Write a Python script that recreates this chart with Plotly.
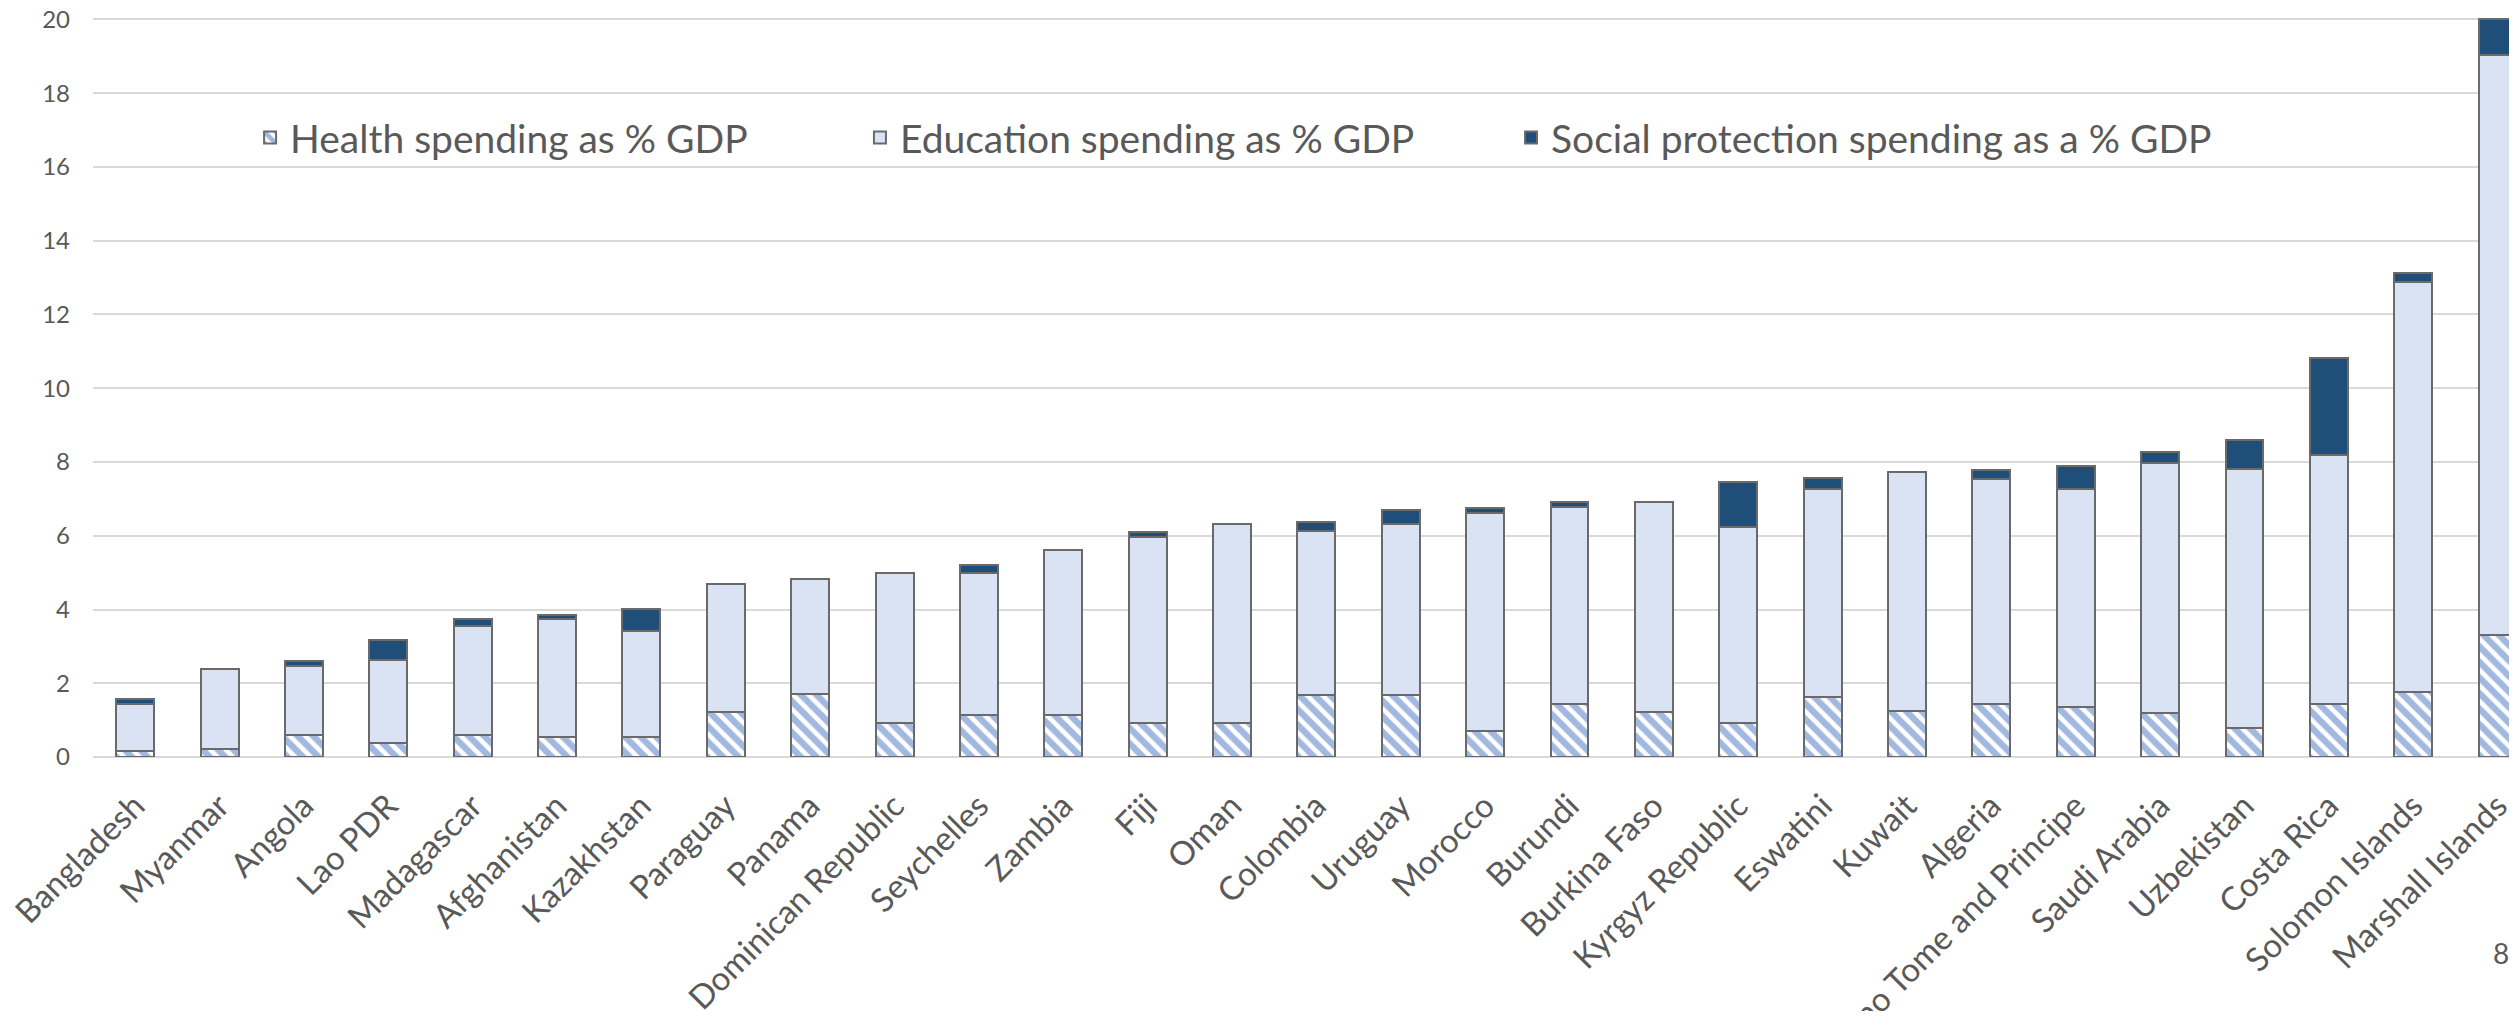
import plotly.graph_objects as go

countries = ["Bangladesh", "Myanmar", "Angola", "Lao PDR", "Madagascar", "Afghanistan",
             "Kazakhstan", "Paraguay", "Panama", "Dominican Republic", "Seychelles", "Zambia",
             "Fiji", "Oman", "Colombia", "Uruguay", "Morocco", "Burundi", "Burkina Faso",
             "Kyrgyz Republic", "Eswatini", "Kuwait", "Algeria", "Sao Tome and Principe",
             "Saudi Arabia", "Uzbekistan", "Costa Rica", "Solomon Islands", "Marshall Islands"]

health = [0.15, 0.22, 0.60, 0.37, 0.60, 0.53, 0.53, 1.23, 1.72, 0.91, 1.14, 1.14,
          0.91, 0.91, 1.67, 1.67, 0.70, 1.45, 1.23, 0.91, 1.63, 1.24, 1.45, 1.36,
          1.18, 0.80, 1.45, 1.77, 3.30]
education = [1.28, 2.17, 1.87, 2.27, 2.96, 3.20, 2.88, 3.45, 3.12, 4.09, 3.85, 4.46,
             5.05, 5.40, 4.45, 4.66, 5.91, 5.32, 5.68, 5.32, 5.64, 6.50, 6.09, 5.91,
             6.80, 7.01, 6.75, 11.11, 15.73]
social = [0.15, 0.0, 0.14, 0.53, 0.19, 0.13, 0.61, 0.0, 0.0, 0.0, 0.23, 0.0,
          0.14, 0.0, 0.25, 0.37, 0.15, 0.15, 0.0, 1.24, 0.30, 0.0, 0.25, 0.63,
          0.30, 0.80, 2.63, 0.25, 0.97]

names = ["Health spending as % GDP", "Education spending as % GDP",
         "Social protection spending as a % GDP"]
y_ticks = [0, 2, 4, 6, 8, 10, 12, 14, 16, 18, 20]
page_number = "8"

FONT = "Lato"
GRAY = "#595959"
OUTLINE = dict(color="#6A6A6A", width=2)

fig = go.Figure()
fig.add_trace(go.Bar(
    x=countries, y=health, name=names[0], legend="legend",
    marker=dict(color="white", line=OUTLINE,
                pattern=dict(shape="\\", fgcolor="#4472C4", bgcolor="white",
                             size=11, solidity=0.58)),
))
fig.add_trace(go.Bar(
    x=countries, y=education, name=names[1], legend="legend2",
    marker=dict(color="#DAE3F3", line=OUTLINE),
))
fig.add_trace(go.Bar(
    x=countries, y=social, name=names[2], legend="legend3",
    marker=dict(color="#1F4E79", line=OUTLINE),
))

LEG_Y = 0.838
def leg(x):
    return dict(orientation="h", x=x, y=LEG_Y, xanchor="left", yanchor="middle",
                font=dict(size=39, color=GRAY, family=FONT),
                bgcolor="rgba(0,0,0,0)")

fig.update_layout(
    barmode="stack",
    bargap=0.55,
    width=2509, height=1003,
    margin=dict(l=85, r=0, t=10, b=254, autoexpand=False),
    plot_bgcolor="white", paper_bgcolor="white",
    font=dict(family=FONT, color=GRAY),
    showlegend=True,
    legend=leg(0.0648),
    legend2=leg(0.3164),
    legend3=leg(0.5850),
    xaxis=dict(range=[-0.5, 28.23], tickangle=-45, tickfont=dict(size=33, color=GRAY),
               showline=False, ticks="", showgrid=False, ticklabelstandoff=22,
               ticklabeloverflow="allow", automargin=False),
    yaxis=dict(range=[0, 20.04], tickvals=y_ticks, tickfont=dict(size=24, color=GRAY),
               showgrid=True, gridcolor="#D9D9D9", gridwidth=2, zeroline=True,
               zerolinecolor="#D9D9D9", zerolinewidth=2, ticks="", ticklabelstandoff=22,
               ticklabeloverflow="allow", automargin=False),
    annotations=[dict(text=page_number, x=0.9935, y=-0.2652, xref="paper", yref="paper",
                      xanchor="center", yanchor="middle", showarrow=False,
                      font=dict(size=28, color=GRAY, family=FONT))],
)

fig.write_html("out.html")
